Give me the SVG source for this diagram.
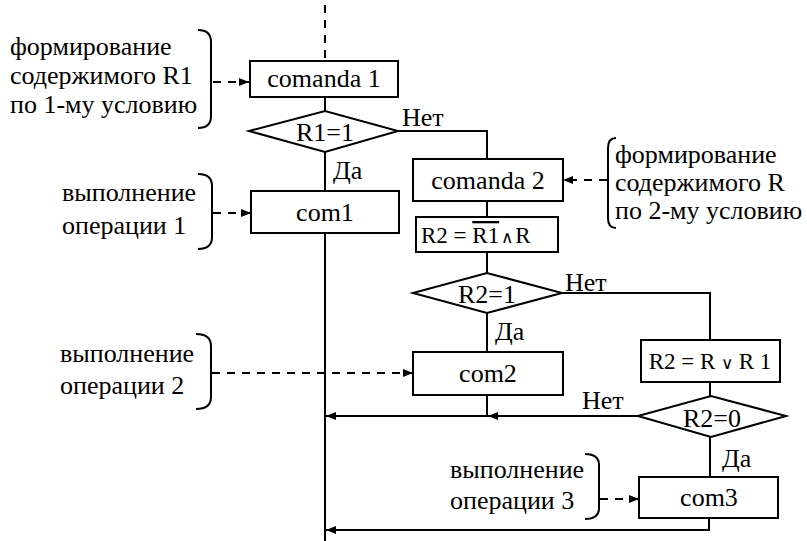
<svg xmlns="http://www.w3.org/2000/svg" width="807" height="541" viewBox="0 0 807 541" font-family="'Liberation Serif', 'Liberation Sans', sans-serif">
<defs>
<marker id="ah" viewBox="0 0 10 8" refX="10" refY="4" markerWidth="10" markerHeight="8" markerUnits="userSpaceOnUse" orient="auto">
<path d="M0,0 L10,4 L0,8 Z" fill="#000"/>
</marker>
<style>
.t{font-size:26px;fill:#000}
.f{font-size:23px;fill:#000}
.op{font-family:"DejaVu Sans",sans-serif;font-size:17px;font-weight:200}
.m{text-anchor:middle}
.b{fill:#fff;stroke:#000;stroke-width:2}
.c{fill:none;stroke:#000;stroke-width:2}
.d{fill:none;stroke:#000;stroke-width:2;stroke-dasharray:8 7}
.br{fill:none;stroke:#000;stroke-width:2}
</style>
</defs>
<rect width="807" height="541" fill="#fff"/>

<g id="connectors">
<path class="d" d="M325,5 V61"/>
<path class="c" d="M325,97 V111"/>
<path class="c" d="M325,152 V191"/>
<path class="c" d="M325,233 V541"/>
<path class="c" d="M398,131 H487 V159"/>
<path class="c" d="M487,201 V217"/>
<path class="c" d="M487,252 V273"/>
<path class="c" d="M487,313 V352"/>
<path class="c" d="M562,293 H710 V340"/>
<path class="c" d="M710,382 V396"/>
<path class="c" d="M638,416 H488" marker-end="url(#ah)"/>
<path class="c" d="M487,395 V416 H326" marker-end="url(#ah)"/>
<path class="c" d="M710,437 V477"/>
<path class="c" d="M709,518 V530 H326" marker-end="url(#ah)"/>
<path class="d" d="M213,82 H249" marker-end="url(#ah)"/>
<path class="d" d="M213,213 H251" marker-end="url(#ah)"/>
<path class="d" d="M212,373 H413" marker-end="url(#ah)"/>
<path class="d" d="M600,499 H639" marker-end="url(#ah)"/>
<path class="d" d="M607,180 H563" marker-end="url(#ah)"/>
<text class="t" x="402" y="126">Нет</text>
<text class="t" x="333" y="179">Да</text>
<text class="t" x="565" y="291">Нет</text>
<text class="t" x="495" y="340">Да</text>
<text class="t" x="582" y="409">Нет</text>
<text class="t" x="722" y="467">Да</text>
</g>

<g id="comanda1">
<rect class="b" x="250" y="61" width="148" height="36"/>
<text class="t m" x="324" y="87">comanda 1</text>
</g>
<g id="d1">
<polygon class="b" points="249,131 325,111 398,131 325,152"/>
<text class="t m" x="325" y="141">R1=1</text>
</g>
<g id="com1">
<rect class="b" x="251" y="191" width="148" height="42"/>
<text class="t m" x="325" y="221">com1</text>
</g>
<g id="comanda2">
<rect class="b" x="413" y="159" width="150" height="42"/>
<text class="t m" x="488" y="189">comanda 2</text>
</g>
<g id="calc1">
<rect class="b" x="416" y="217" width="142" height="35"/>
<text class="f" x="421" y="243">R2 = <tspan text-decoration="overline">R1</tspan><tspan class="op" dx="2">∧</tspan><tspan dx="2">R</tspan></text>
</g>
<g id="d2">
<polygon class="b" points="413,293 487,273 562,293 487,313"/>
<text class="t m" x="487" y="303">R2=1</text>
</g>
<g id="com2">
<rect class="b" x="413" y="352" width="150" height="43"/>
<text class="t m" x="488" y="382">com2</text>
</g>
<g id="calc2">
<rect class="b" x="641" y="340" width="139" height="42"/>
<text class="f m" x="710" y="369">R2 = R <tspan class="op">∨</tspan> R 1</text>
</g>
<g id="d3">
<polygon class="b" points="638,416 711,396 786,416 711,437"/>
<text class="t m" x="712" y="427">R2=0</text>
</g>
<g id="com3">
<rect class="b" x="639" y="477" width="139" height="41"/>
<text class="t m" x="709" y="506">com3</text>
</g>

<g id="note1">
<text class="t" x="10" y="55">формирование</text>
<text class="t" x="10" y="84">содержимого R1</text>
<text class="t" x="10" y="113">по 1-му условию</text>
<path class="br" d="M198,30 Q211,30 211,42 V116 Q211,128 198,128"/>
</g>
<g id="note2">
<text class="t" x="62" y="201">выполнение</text>
<text class="t" x="62" y="234">операции 1</text>
<path class="br" d="M198,174 Q212,174 212,186 V237 Q212,249 198,249"/>
</g>
<g id="note3">
<text class="t" x="60" y="362">выполнение</text>
<text class="t" x="60" y="394">операции 2</text>
<path class="br" d="M196,334 Q211,334 211,346 V397 Q211,409 196,409"/>
</g>
<g id="note4">
<text class="t" x="450" y="478">выполнение</text>
<text class="t" x="450" y="509">операции 3</text>
<path class="br" d="M585,454 Q599,454 599,465 V508 Q599,519 585,519"/>
</g>
<g id="note5">
<text class="t" x="615" y="163">формирование</text>
<text class="t" x="615" y="191">содержимого R</text>
<text class="t" x="615" y="219">по 2-му условию</text>
<path class="br" d="M616,138 Q608,138 608,148 V218 Q608,228 616,228"/>
</g>
</svg>
